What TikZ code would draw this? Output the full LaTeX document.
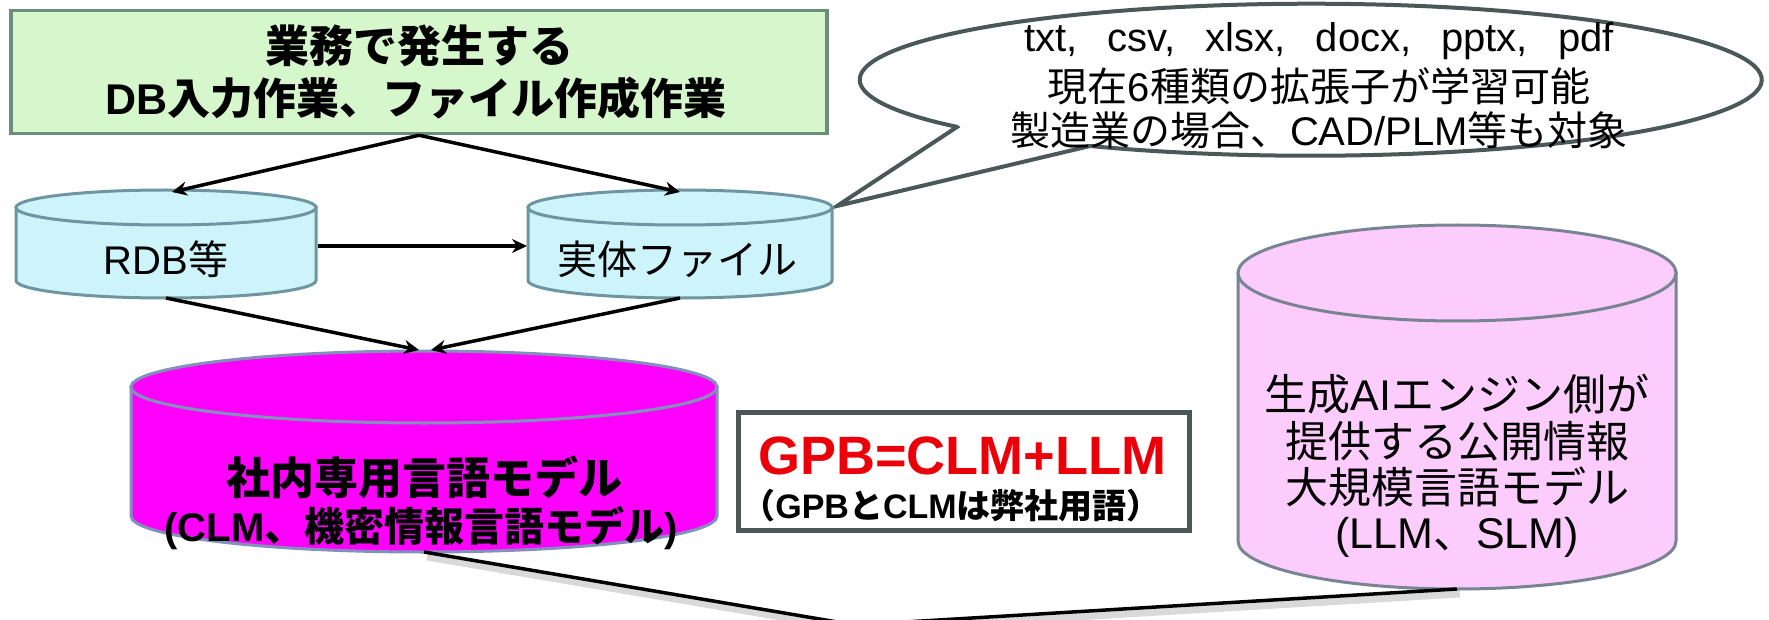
\documentclass[tikz,border=0pt]{standalone}
\usepackage{fontspec}
\setmainfont{Liberation Sans}
\newfontfamily\jpfont{Noto Sans CJK JP}
\newcommand\J[1]{{\jpfont #1}}
\usetikzlibrary{arrows.meta}
\definecolor{gfill}{RGB}{214,246,204}
\definecolor{gdraw}{RGB}{110,140,125}
\definecolor{cfill}{RGB}{204,244,250}
\definecolor{cdraw}{RGB}{110,150,160}
\definecolor{mfill}{RGB}{255,0,255}
\definecolor{mdraw}{RGB}{130,145,185}
\definecolor{pfill}{RGB}{252,204,252}
\definecolor{pdraw}{RGB}{120,132,145}
\definecolor{bdraw}{RGB}{75,88,88}
\definecolor{gpbred}{RGB}{235,0,10}
\newcommand\mycyl[7]{%
  \pgfmathsetmacro\cylT{#3+#6}\pgfmathsetmacro\cylB{#4-#6}%
  \path[#7] ({#2-#5},\cylT) -- ({#2-#5},\cylB)
     arc[start angle=180,end angle=360,x radius=#5pt,y radius=#6pt]
     -- ({#2+#5},\cylT) -- cycle;
  \path[#7] (#2,\cylT) ellipse[x radius=#5pt,y radius=#6pt];
  \coordinate (#1-top) at (#2,#3);
  \coordinate (#1-bot) at (#2,#4);
}
\begin{document}
\begin{tikzpicture}[x=1pt,y=-1pt,
  txt/.style={inner sep=0pt,anchor=base},
  fs/.style={font=\fontsize{#1pt}{#1pt}\selectfont},
  arr/.style={line width=3.5pt,-{Stealth[length=15pt,width=14pt]}},
  plain/.style={line width=3.5pt},
  shadowline/.style={line width=7pt,black,opacity=0.15},
  gbox/.style={draw=gdraw,fill=gfill,line width=3.5pt,inner sep=0pt},
  gpbbox/.style={draw=bdraw,fill=white,line width=5pt,inner sep=0pt},
  cyan cyl/.style={draw=cdraw,fill=cfill,line width=3pt},
  mag cyl/.style={draw=mdraw,fill=mfill,line width=3pt},
  pink cyl/.style={draw=pdraw,fill=pfill,line width=3pt},
  callout/.style={draw=bdraw,fill=white,line width=4pt,line join=miter}]
\fill[white] (0,0) rectangle (1769,620);
\useasboundingbox (0,0) rectangle (1769,620);

% top green box
\node[gbox,minimum width=816pt,minimum height=123pt] (green) at (419,72) {};
\node[txt,fs=44] (g1) at (419,63) {\bfseries\J{業務で発生する}};
\node[txt,fs=43] (g2) at (416,115) {\bfseries DB\J{入力作業、ファイル作成作業}};

% callout
\coordinate (cA) at (957,127);
\coordinate (cT) at (837,206);
\coordinate (cB) at (1090,146);
\draw[callout] (cA) -- (cT) -- (cB)
   arc[start angle=-119.3,end angle=218.3,x radius=451pt,y radius=76pt] -- cycle;
\node[txt,fs=40] (t1) at (1319,52) {txt,\hspace{30pt}csv,\hspace{30pt}xlsx,\hspace{30pt}docx,\hspace{30pt}pptx,\hspace{30pt}pdf};
\node[txt,fs=40] (t2) at (1319,102) {\J{現在}6\J{種類の拡張子が学習可能}};
\node[txt,fs=40] (t3) at (1319,146) {\J{製造業の場合、}CAD/PLM\J{等も対象}};

% cylinders
\mycyl{rdbc}{166}{190}{298}{150}{17.5}{cyan cyl}
\mycyl{filec}{680}{190}{298}{152}{17.5}{cyan cyl}
\mycyl{magc}{424}{351}{552}{293}{36}{mag cyl}
\mycyl{pinkc}{1457}{225}{589}{219}{48}{pink cyl}

\node[txt,fs=40] (rdb) at (166,275) {RDB\J{等}};
\node[txt,fs=40] (file) at (677,275) {\J{実体ファイル}};

\node[txt,fs=44] (m1) at (424,494) {\bfseries\J{社内専用言語モデル}};
\node[txt,fs=40] (m2) at (421,541) {\bfseries(CLM\J{、機密情報言語モデル})};

\node[txt,fs=43] (p1) at (1457,410) {\J{生成}AI\J{エンジン側が}};
\node[txt,fs=43] (p2) at (1457,457) {\J{提供する公開情報}};
\node[txt,fs=43] (p3) at (1457,503) {\J{大規模言語モデル}};
\node[txt,fs=43] (p4) at (1457,548) {(LLM\J{、}SLM)};

% GPB box
\node[gpbbox,minimum width=451pt,minimum height=118pt] (gpb) at (963.5,471) {};
\node[txt,fs=54] (gpb1) at (962,474) {\bfseries\color{gpbred}GPB=CLM+LLM};
\node[txt,fs=34] (gpb2) at (951,518) {\bfseries\J{（}GPB\J{と}CLM\J{は弊社用語）}};

% connectors
\coordinate (rdbIn) at (172,192);
\coordinate (fileIn) at (680,192);
\coordinate (rdbR) at (318,246);
\coordinate (fileL) at (527,246);
\coordinate (magInL) at (419,350);
\coordinate (magInR) at (431,350);
\coordinate (vtx) at (855,625);
\draw[arr] (green.south) -- (rdbIn);
\draw[arr] (green.south) -- (fileIn);
\draw[arr] (rdbR) -- (fileL);
\draw[arr] (rdbc-bot) -- (magInL);
\draw[arr] (filec-bot) -- (magInR);

\draw[shadowline] ([shift={(3,5)}]magc-bot) -- ([shift={(3,5)}]vtx);
\draw[shadowline] ([shift={(3,5)}]pinkc-bot) -- ([shift={(3,5)}]vtx);
\draw[plain] (magc-bot) -- (vtx);
\draw[plain] (pinkc-bot) -- (vtx);
\end{tikzpicture}
\end{document}
